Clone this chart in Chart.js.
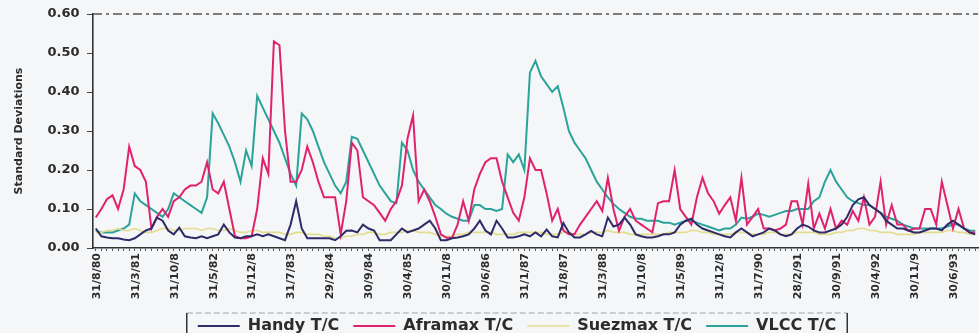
<!DOCTYPE html>
<html><head><meta charset="utf-8">
<script src="https://cdn.jsdelivr.net/npm/chart.js@4.4.0/dist/chart.umd.min.js"></script>
<style>
html,body{margin:0;padding:0;background:#f5f6f8;}
</style></head><body><canvas id="c" width="979" height="333"></canvas>
<script>
const categories = [
"31/8/80","30/9/80","31/10/80","30/11/80","31/12/80",
"31/1/81","28/2/81","31/3/81","30/4/81","31/5/81","30/6/81","31/7/81","31/8/81","30/9/81","31/10/81","30/11/81","31/12/81",
"31/1/82","28/2/82","31/3/82","30/4/82","31/5/82","30/6/82","31/7/82","31/8/82","30/9/82","31/10/82","30/11/82","31/12/82",
"31/1/83","28/2/83","31/3/83","30/4/83","31/5/83","30/6/83","31/7/83","31/8/83","30/9/83","31/10/83","30/11/83","31/12/83",
"31/1/84","29/2/84","31/3/84","30/4/84","31/5/84","30/6/84","31/7/84","31/8/84","30/9/84","31/10/84","30/11/84","31/12/84",
"31/1/85","28/2/85","31/3/85","30/4/85","31/5/85","30/6/85","31/7/85","31/8/85","30/9/85","31/10/85","30/11/85","31/12/85",
"31/1/86","28/2/86","31/3/86","30/4/86","31/5/86","30/6/86","31/7/86","31/8/86","30/9/86","31/10/86","30/11/86","31/12/86",
"31/1/87","28/2/87","31/3/87","30/4/87","31/5/87","30/6/87","31/7/87","31/8/87","30/9/87","31/10/87","30/11/87","31/12/87",
"31/1/88","29/2/88","31/3/88","30/4/88","31/5/88","30/6/88","31/7/88","31/8/88","30/9/88","31/10/88","30/11/88","31/12/88",
"31/1/89","28/2/89","31/3/89","30/4/89","31/5/89","30/6/89","31/7/89","31/8/89","30/9/89","31/10/89","30/11/89","31/12/89",
"31/1/90","28/2/90","31/3/90","30/4/90","31/5/90","30/6/90","31/7/90","31/8/90","30/9/90","31/10/90","30/11/90","31/12/90",
"31/1/91","28/2/91","31/3/91","30/4/91","31/5/91","30/6/91","31/7/91","31/8/91","30/9/91","31/10/91","30/11/91","31/12/91",
"31/1/92","29/2/92","31/3/92","30/4/92","31/5/92","30/6/92","31/7/92","31/8/92","30/9/92","31/10/92","30/11/92","31/12/92",
"31/1/93","28/2/93","31/3/93","30/4/93","31/5/93","30/6/93","31/7/93","31/8/93","30/9/93","31/10/93"
];
const seriesNames = ["Handy T/C","Aframax T/C","Suezmax T/C","VLCC T/C"];
const handy = [
0.05,0.03,0.027,0.025,0.025,0.022,0.02,0.025,0.035,0.045,
0.05,0.078,0.07,0.045,0.035,0.052,0.03,0.027,0.025,0.03,
0.025,0.03,0.035,0.06,0.04,0.027,0.025,0.03,0.03,0.035,
0.03,0.035,0.03,0.025,0.02,0.06,0.12,0.05,0.025,0.025,
0.025,0.025,0.025,0.02,0.03,0.044,0.045,0.04,0.06,0.05,
0.045,0.02,0.02,0.02,0.035,0.05,0.04,0.045,0.05,0.06,
0.07,0.05,0.02,0.02,0.025,0.027,0.03,0.035,0.05,0.07,
0.045,0.035,0.07,0.05,0.027,0.027,0.03,0.035,0.03,0.04,
0.03,0.047,0.03,0.027,0.064,0.04,0.027,0.027,0.035,0.044,
0.035,0.03,0.078,0.055,0.06,0.078,0.06,0.035,0.03,0.027,
0.027,0.03,0.035,0.035,0.04,0.06,0.07,0.075,0.06,0.05,
0.045,0.04,0.035,0.03,0.027,0.04,0.05,0.04,0.03,0.035,
0.04,0.05,0.045,0.035,0.03,0.035,0.05,0.06,0.055,0.045,
0.04,0.04,0.045,0.05,0.06,0.08,0.11,0.125,0.13,0.11,
0.10,0.09,0.07,0.06,0.05,0.05,0.045,0.04,0.04,0.045,
0.05,0.05,0.045,0.06,0.07,0.06,0.05,0.04,0.035
];
const aframax = [
0.078,0.10,0.125,0.135,0.10,0.15,0.26,0.21,0.20,0.17,
0.05,0.08,0.10,0.08,0.12,0.13,0.15,0.16,0.16,0.17,
0.22,0.15,0.14,0.17,0.10,0.03,0.025,0.025,0.03,0.10,
0.23,0.19,0.53,0.52,0.30,0.17,0.17,0.20,0.26,0.22,
0.17,0.13,0.13,0.13,0.035,0.12,0.27,0.25,0.13,0.12,
0.11,0.09,0.07,0.10,0.12,0.16,0.28,0.34,0.12,0.15,
0.12,0.08,0.035,0.026,0.026,0.06,0.12,0.07,0.15,0.19,
0.22,0.23,0.23,0.17,0.13,0.09,0.07,0.13,0.23,0.20,
0.20,0.14,0.07,0.10,0.045,0.035,0.035,0.06,0.08,0.10,
0.12,0.095,0.18,0.10,0.044,0.08,0.10,0.07,0.06,0.05,
0.04,0.115,0.12,0.12,0.20,0.10,0.08,0.06,0.13,0.18,
0.14,0.12,0.088,0.11,0.13,0.07,0.18,0.06,0.08,0.10,
0.05,0.05,0.045,0.05,0.06,0.12,0.12,0.06,0.165,0.05,
0.088,0.05,0.10,0.05,0.07,0.06,0.095,0.07,0.13,0.06,
0.08,0.17,0.06,0.11,0.06,0.06,0.044,0.05,0.05,0.10,
0.10,0.06,0.17,0.11,0.05,0.10,0.05,0.04,0.04
];
const suezmax = [
0.04,0.04,0.045,0.045,0.05,0.045,0.045,0.05,0.045,0.04,
0.04,0.045,0.05,0.05,0.045,0.045,0.05,0.05,0.05,0.045,
0.05,0.05,0.045,0.045,0.05,0.045,0.04,0.04,0.045,0.045,
0.04,0.04,0.04,0.04,0.035,0.035,0.04,0.04,0.035,0.035,
0.035,0.03,0.03,0.025,0.025,0.03,0.03,0.035,0.035,0.04,
0.04,0.035,0.035,0.04,0.04,0.04,0.045,0.045,0.04,0.04,
0.04,0.035,0.03,0.03,0.03,0.035,0.035,0.04,0.04,0.04,
0.04,0.04,0.035,0.035,0.035,0.035,0.04,0.04,0.04,0.04,
0.04,0.035,0.035,0.035,0.04,0.04,0.035,0.035,0.035,0.04,
0.04,0.04,0.045,0.04,0.04,0.04,0.035,0.035,0.035,0.035,
0.035,0.035,0.035,0.04,0.04,0.04,0.04,0.045,0.045,0.04,
0.04,0.035,0.035,0.035,0.035,0.04,0.04,0.04,0.035,0.035,
0.035,0.04,0.04,0.035,0.035,0.035,0.04,0.04,0.04,0.04,
0.035,0.035,0.035,0.04,0.04,0.045,0.045,0.05,0.05,0.045,
0.045,0.04,0.04,0.04,0.035,0.035,0.035,0.035,0.04,0.04,
0.04,0.04,0.04,0.045,0.045,0.04,0.04,0.035,0.035
];
const vlcc = [
0.044,0.04,0.04,0.04,0.045,0.05,0.06,0.14,0.12,0.11,
0.10,0.09,0.08,0.10,0.14,0.13,0.12,0.11,0.10,0.09,
0.13,0.345,0.32,0.29,0.26,0.22,0.17,0.25,0.21,0.39,
0.36,0.33,0.30,0.27,0.23,0.19,0.16,0.345,0.33,0.30,
0.26,0.22,0.19,0.16,0.14,0.17,0.285,0.28,0.25,0.22,
0.19,0.16,0.14,0.12,0.115,0.27,0.25,0.20,0.17,0.15,
0.13,0.11,0.10,0.088,0.08,0.075,0.07,0.07,0.11,0.11,
0.10,0.10,0.095,0.10,0.24,0.22,0.24,0.20,0.45,0.48,
0.44,0.42,0.40,0.415,0.36,0.30,0.27,0.25,0.23,0.20,
0.17,0.15,0.13,0.113,0.10,0.09,0.08,0.075,0.075,0.07,
0.07,0.07,0.065,0.065,0.06,0.065,0.07,0.07,0.065,0.06,
0.055,0.05,0.045,0.05,0.05,0.06,0.078,0.075,0.08,0.088,
0.085,0.08,0.085,0.09,0.095,0.095,0.10,0.10,0.10,0.12,
0.13,0.17,0.20,0.17,0.15,0.13,0.12,0.115,0.11,0.11,
0.10,0.09,0.08,0.075,0.07,0.06,0.055,0.05,0.05,0.05,
0.05,0.05,0.05,0.055,0.06,0.06,0.05,0.045,0.044
];
const seriesColors = ["#2e2b68","#e0226e","#e4dc8e","#2ca39a"];
const labelEvery = 7;
const labelMaxChars = 7;
const yMin = 0, yMax = 0.6, yStep = 0.1;

const FONT = "'DejaVu Sans', 'Liberation Sans', Arial, sans-serif";
const TXT = '#2c2c2c';
const X_TICK_LEN = 3, X_LABEL_PAD = 2;

const legendShift = {
  id: 'legendShift',
  afterLayout(chart){
    const lg = chart.legend;
    if (lg) { lg.left += 28; lg.right += 28; }
  }
};
// vertical category labels (every 7th month, truncated like the original)
const xLabels = {
  id: 'xLabels',
  afterDraw(chart){
    const sc = chart.scales.x, ctx = chart.ctx;
    ctx.save();
    ctx.fillStyle = TXT;
    ctx.font = "bold 11px " + FONT;
    ctx.textAlign = 'right';
    ctx.textBaseline = 'middle';
    for (let i = 0; i < categories.length; i++) {
      if (i % labelEvery !== 0) continue;
      const x = sc.getPixelForValue(i);
      ctx.save();
      ctx.translate(x + 1, sc.top + X_TICK_LEN + X_LABEL_PAD);
      ctx.rotate(-Math.PI / 2);
      ctx.fillText(categories[i].slice(0, labelMaxChars), 0, 0);
      ctx.restore();
    }
    ctx.restore();
  }
};
const frames = {
  id: 'frames',
  afterDraw(chart){
    const ctx = chart.ctx, a = chart.chartArea;
    ctx.save();
    ctx.strokeStyle = '#555';
    ctx.lineWidth = 1.3;
    ctx.setLineDash([9,4,3,4]);
    ctx.beginPath(); ctx.moveTo(a.left, a.top); ctx.lineTo(a.right, a.top); ctx.stroke();
    const lg = chart.legend;
    if (lg && lg.legendHitBoxes && lg.legendHitBoxes.length){
      const hb = lg.legendHitBoxes;
      let x0 = Infinity, x1 = -Infinity, y0 = Infinity;
      hb.forEach(h => { x0 = Math.min(x0, h.left); x1 = Math.max(x1, h.left + h.width); y0 = Math.min(y0, h.top); });
      x0 -= 11; x1 += 11; y0 -= 5;
      ctx.setLineDash([6,3]);
      ctx.strokeStyle = '#9aa4ad';
      ctx.lineWidth = 1;
      ctx.beginPath(); ctx.moveTo(x0, y0); ctx.lineTo(x1, y0); ctx.stroke();
      ctx.setLineDash([]);
      ctx.strokeStyle = '#333';
      ctx.lineWidth = 1.5;
      ctx.beginPath(); ctx.moveTo(x0, y0); ctx.lineTo(x0, chart.height + 2); ctx.stroke();
      ctx.beginPath(); ctx.moveTo(x1, y0); ctx.lineTo(x1, chart.height + 2); ctx.stroke();
    }
    ctx.restore();
  }
};

const datasets = [handy, aframax, suezmax, vlcc].map((d, k) => ({
  label: seriesNames[k],
  data: d,
  borderColor: seriesColors[k],
  backgroundColor: seriesColors[k],
  borderWidth: k === 2 ? 1.6 : 2,
  pointRadius: 0,
  tension: 0,
  pointStyle: 'line'
}));

new Chart(document.getElementById('c'), {
  type: 'line',
  data: { labels: categories, datasets },
  options: {
    responsive: false,
    animation: false,
    layout: { padding: { top: 14, right: 1, left: 0, bottom: -11 } },
    plugins: {
      tooltip: { enabled: false },
      legend: {
        position: 'bottom',
        labels: {
          usePointStyle: true,
          pointStyle: 'line',
          pointStyleWidth: 42,
          boxHeight: 16,
          padding: 14,
          color: TXT,
          font: { family: FONT, size: 16, weight: 'bold' }
        }
      }
    },
    scales: {
      x: {
        type: 'category',
        offset: true,
        afterFit(s){ s.height = 56; },
        grid: { display: true, drawOnChartArea: false, drawTicks: true, tickLength: X_TICK_LEN, color: '#555', lineWidth: 1 },
        border: { display: true, color: '#333', width: 1.6 },
        ticks: { display: false, autoSkip: false }
      },
      y: {
        min: yMin, max: yMax,
        afterFit(s){ s.width = 93; },
        grid: { display: true, drawOnChartArea: false, drawTicks: true, tickLength: 6, color: '#444' },
        border: { display: true, color: '#333', width: 1.6 },
        ticks: {
          stepSize: yStep,
          padding: 7.5,
          color: TXT,
          font: { family: FONT, size: 13, weight: 'bold', lineHeight: 1 },
          callback(v){ return Number(v).toFixed(2); }
        },
        title: {
          display: true,
          text: 'Standard Deviations',
          color: TXT,
          padding: { top: 13, bottom: 0 },
          font: { family: FONT, size: 11, weight: 'bold' }
        }
      }
    }
  },
  plugins: [legendShift, xLabels, frames]
});
</script></body></html>
